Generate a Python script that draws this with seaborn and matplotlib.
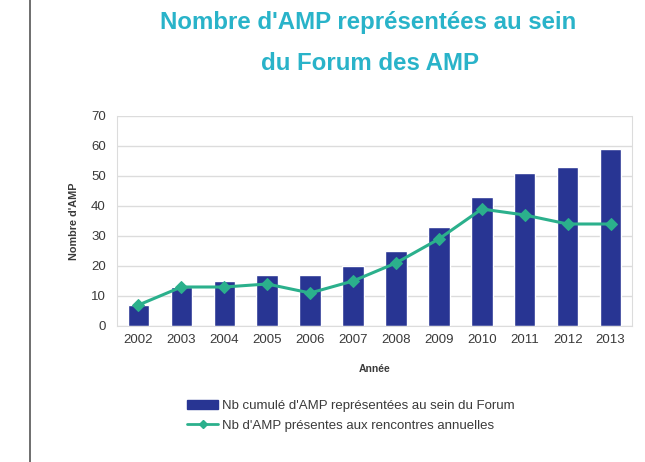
import matplotlib
matplotlib.use("Agg")
import matplotlib.pyplot as plt
import seaborn as sns
import pandas as pd
from matplotlib.lines import Line2D
from matplotlib.patches import Patch

years = ["2002", "2003", "2004", "2005", "2006", "2007", "2008", "2009", "2010", "2011", "2012", "2013"]
cumul = [7, 13, 15, 17, 17, 20, 25, 33, 43, 51, 53, 59]
presentes = [7, 13, 13, 14, 11, 15, 21, 29, 39, 37, 34, 34]

bar_label = "Nb cumulé d'AMP représentées au sein du Forum"
line_label = "Nb d'AMP présentes aux rencontres annuelles"

df = pd.DataFrame({"year": years, "cumul": cumul, "presentes": presentes})

sns.set_style("white")
plt.rcParams['font.family'] = ['Liberation Sans', 'DejaVu Sans']

bar_color = "#283593"
line_color = "#2bb08c"
grid_color = "#dcdcdc"
text_color = "#3a3a3a"

fig = plt.figure(figsize=(6.45, 4.62), dpi=100)
ax = fig.add_axes([117/645, 1-326/462, (632-117)/645, (326-116)/462])

sns.barplot(data=df, x="year", y="cumul", color=bar_color, width=0.5, ax=ax,
            saturation=1, zorder=2)
sns.lineplot(x=list(range(len(years))), y=presentes, color=line_color, lw=2.2,
             marker="D", markersize=6, markeredgecolor=line_color, ax=ax, zorder=3)

ax.set_ylim(0, 70)
ax.set_xlim(-0.5, len(years) - 0.5)
ax.set_yticks(range(0, 71, 10))
ax.yaxis.grid(True, color=grid_color, lw=1, zorder=0)
ax.set_axisbelow(True)
ax.tick_params(axis="both", labelsize=9.5, colors=text_color, length=0, pad=6)
ax.tick_params(axis="y", length=4, color=grid_color, pad=4)
for s in ["left", "bottom", "right", "top"]:
    ax.spines[s].set_color(grid_color)
ax.spines["top"].set_visible(False)
ax.set_xticks(range(len(years)))
ax.set_xticklabels(years)
ax.set_xticks([i + 0.5 for i in range(-1, len(years))], minor=True)
ax.tick_params(axis="x", which="minor", length=4, color=grid_color)
ax.set_xlabel("Année", fontsize=7.5, fontweight="bold", color=text_color, labelpad=13)
ax.set_ylabel("Nombre d'AMP", fontsize=7.8, fontweight="bold", color=text_color, labelpad=9)

handles = [Patch(facecolor=bar_color, edgecolor=bar_color),
           Line2D([0], [0], color=line_color, lw=2, marker="D", markersize=4)]
fig.legend(handles, [bar_label, line_label], loc="upper left",
           bbox_to_anchor=(187/645, 1-400/462), frameon=False, fontsize=9.5,
           borderpad=0, borderaxespad=0,
           handlelength=2.35, handletextpad=0.3, labelspacing=0.55,
           labelcolor=text_color)

title_color = "#29b3c9"
fig.text(368/645, 1-23/462, "Nombre d'AMP représentées au sein", ha="center", va="center",
         fontsize=17.3, fontweight="bold", color=title_color)
fig.text(370/645, 1-63/462, "du Forum des AMP", ha="center", va="center",
         fontsize=17.3, fontweight="bold", color=title_color)

fig.add_artist(Line2D([30/645, 30/645], [0, 1], transform=fig.transFigure,
                      color="#555555", lw=1.2))

fig.savefig("out.png", dpi=100)
